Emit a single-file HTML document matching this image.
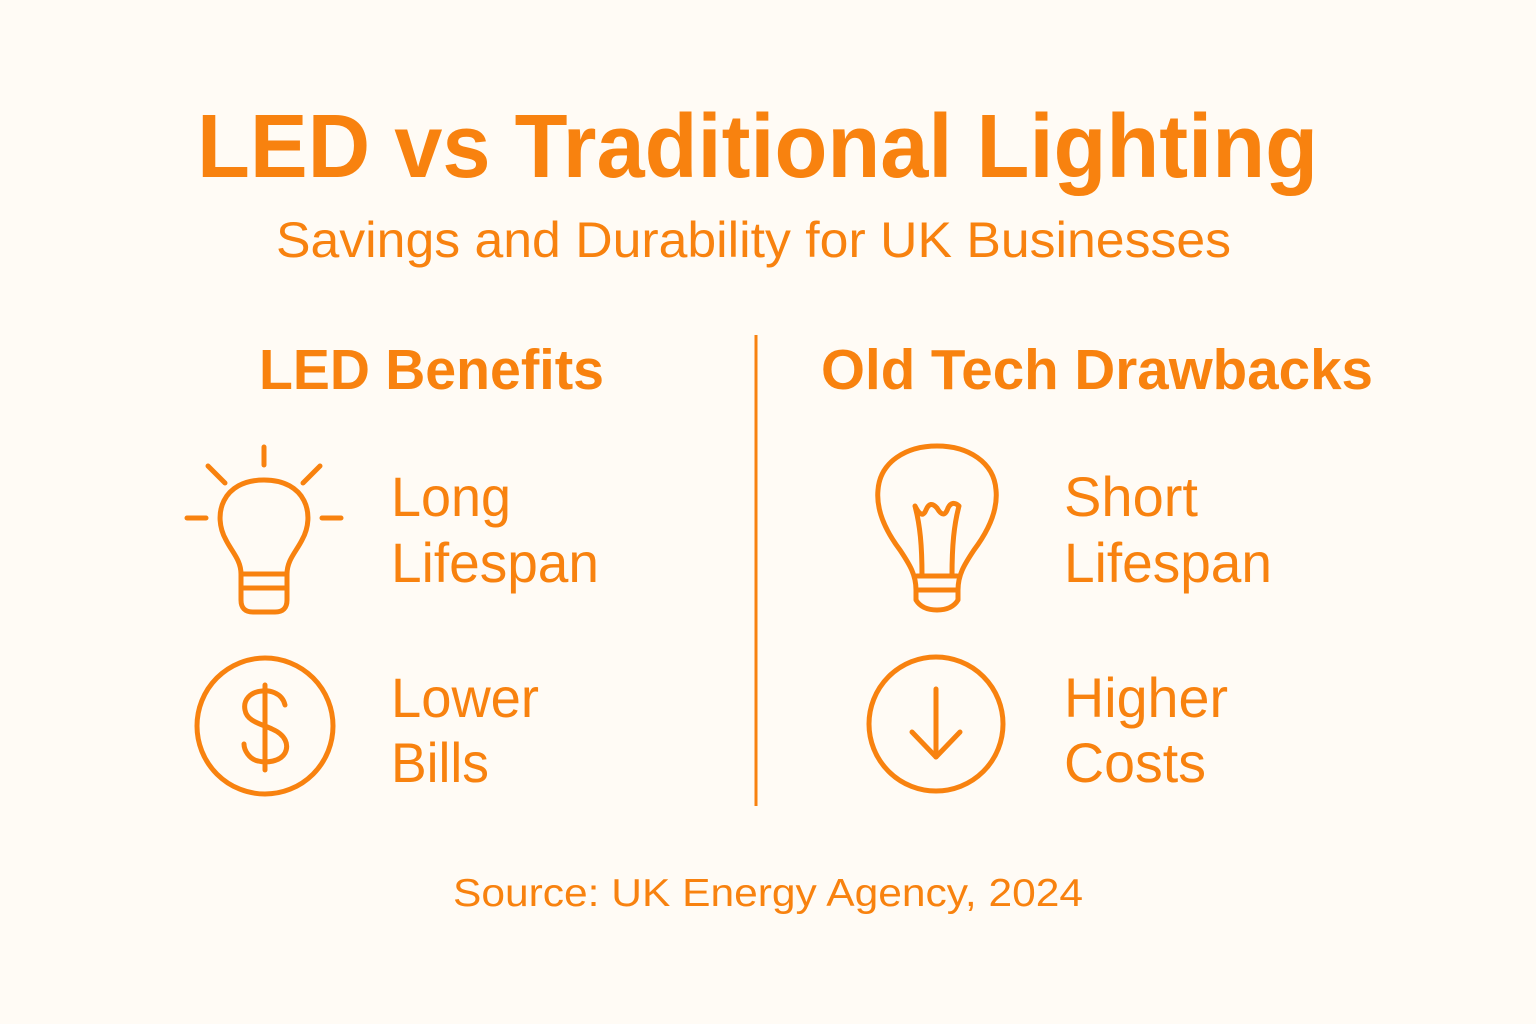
<!DOCTYPE html>
<html><head><meta charset="utf-8"><style>
html,body{margin:0;padding:0;background:#FFFBF5;}
svg{display:block}
text{font-family:"Liberation Sans",sans-serif;fill:#F8820F}
</style></head><body>
<svg width="1536" height="1024" viewBox="0 0 1536 1024" xmlns="http://www.w3.org/2000/svg">
<rect width="1536" height="1024" fill="#FFFBF5"/>
<text x="197" y="177" font-size="90" font-weight="bold" textLength="1121" lengthAdjust="spacingAndGlyphs">LED vs Traditional Lighting</text>
<text x="276" y="257" font-size="50" textLength="955" lengthAdjust="spacingAndGlyphs">Savings and Durability for UK Businesses</text>
<text x="259" y="389" font-size="57" font-weight="bold" textLength="345" lengthAdjust="spacingAndGlyphs">LED Benefits</text>
<text x="821" y="389" font-size="57" font-weight="bold" textLength="552" lengthAdjust="spacingAndGlyphs">Old Tech Drawbacks</text>
<rect x="754.5" y="335" width="3" height="471" fill="#F8820F"/>
<g font-size="56">
<text x="391" y="516" textLength="120" lengthAdjust="spacingAndGlyphs">Long</text>
<text x="391" y="582" textLength="208" lengthAdjust="spacingAndGlyphs">Lifespan</text>
<text x="391" y="717" textLength="148" lengthAdjust="spacingAndGlyphs">Lower</text>
<text x="391" y="782" textLength="98" lengthAdjust="spacingAndGlyphs">Bills</text>
<text x="1064" y="516" textLength="134" lengthAdjust="spacingAndGlyphs">Short</text>
<text x="1064" y="582" textLength="208" lengthAdjust="spacingAndGlyphs">Lifespan</text>
<text x="1064" y="717" textLength="164" lengthAdjust="spacingAndGlyphs">Higher</text>
<text x="1064" y="782" textLength="142" lengthAdjust="spacingAndGlyphs">Costs</text>
</g>
<text x="453" y="906" font-size="39" textLength="630" lengthAdjust="spacingAndGlyphs">Source: UK Energy Agency, 2024</text>
<g fill="none" stroke="#F8820F" stroke-width="5" stroke-linecap="round" stroke-linejoin="round">
<!-- LED bulb -->
<line x1="264" y1="447" x2="264" y2="465"/>
<line x1="208" y1="466" x2="225" y2="483"/>
<line x1="320" y1="466" x2="303" y2="483"/>
<line x1="187" y1="518" x2="206" y2="518"/>
<line x1="322" y1="518" x2="341" y2="518"/>
<path d="M241,574 C241,560 232,552 226,540 C212,515 222,480 264,480 C306,480 316,515 302,540 C296,552 287,560 287,574 Z"/>
<path d="M241,574 L241,600 Q241,612 253,612 L275,612 Q287,612 287,600 L287,574"/>
<line x1="242" y1="588" x2="286" y2="588"/>
<!-- dollar -->
<circle cx="265" cy="726" r="68"/>
<line x1="265" y1="685" x2="265" y2="770"/>
<path d="M285,705 C282,692 268,690 262,691 C250,692 243,700 245,710 C247,722 262,724 272,729 C286,735 289,745 285,753 C280,762 266,763 258,761 C249,759 244,750 244,744"/>
<!-- old bulb -->
<path d="M916,590 C916,575 910,565 900,550 C885,530 876,510 878,490 C880,462 906,446 937,446 C968,446 994,462 996,490 C998,510 989,530 974,550 C964,565 958,575 958,590 Z"/>
<path d="M916,590 L916,600 Q922,610 937,610 Q952,610 958,600 L958,590"/>
<line x1="917" y1="576" x2="957" y2="576"/>
<path d="M922,576 C922,545 920,525 915,506 M952,576 C952,545 954,525 959,506 M915,506 Q922,520 926,510 Q930,500 937,508 Q944,520 948,508 Q952,500 959,506"/>
<!-- down arrow -->
<circle cx="936" cy="724" r="67"/>
<line x1="936" y1="689" x2="936" y2="757"/>
<polyline points="912,732 936,757 960,732"/>
</g>
</svg>
</body></html>
